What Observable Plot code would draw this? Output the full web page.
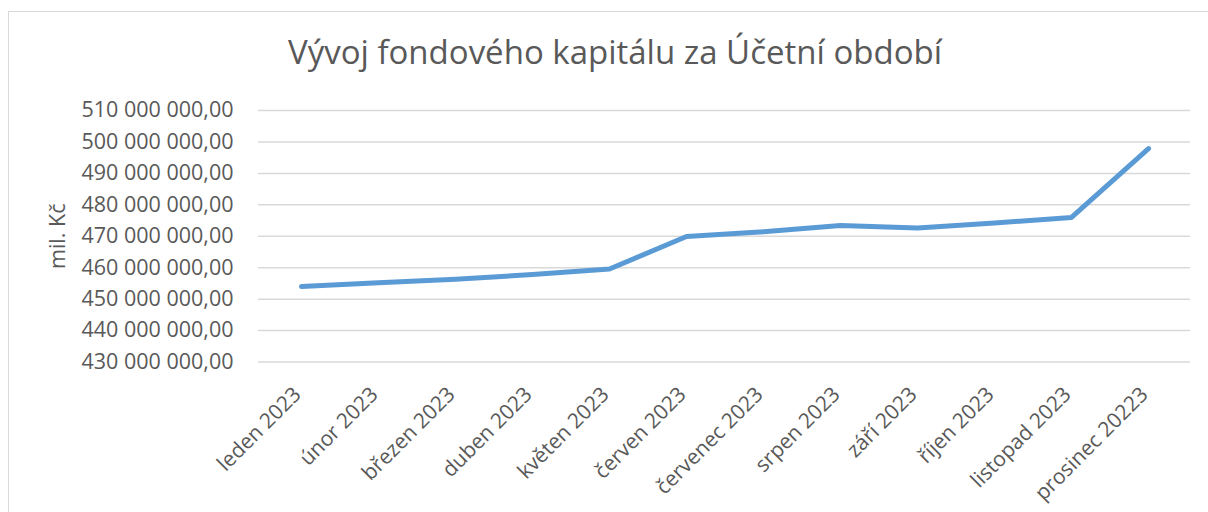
<!DOCTYPE html>
<html>
<head>
<meta charset="utf-8">
<script src="https://cdn.jsdelivr.net/npm/d3@7"></script>
<script src="https://cdn.jsdelivr.net/npm/@observablehq/plot@0.6"></script>
<style>
  html, body { margin: 0; padding: 0; background: #fff; }
  #wrap { position: relative; width: 1208px; height: 512px; overflow: hidden; font-family: "Open Sans", sans-serif; }
  #frame { position: absolute; left: 8px; top: 11px; width: 1300px; height: 600px; border-left: 1.3px solid #d9d9d9; border-top: 1.3px solid #d9d9d9; }
  #title { position: absolute; left: 0; top: 32px; width: 1230px; text-align: center; font-size: 33px; color: #595959; line-height: 40px; }
  #chart { position: absolute; left: 0; top: 90px; }
</style>
</head>
<body>
<div id="wrap">
  <div id="frame"></div>
  <div id="title">Vývoj fondového kapitálu za Účetní období</div>
  <div id="chart"></div>
</div>
<script>
const months = ["leden 2023", "únor 2023", "březen 2023", "duben 2023", "květen 2023", "červen 2023",
  "červenec 2023", "srpen 2023", "září 2023", "říjen 2023", "listopad 2023", "prosinec 20223"];
const values = [454.0e6, 455.2e6, 456.3e6, 457.8e6, 459.6e6, 469.9e6,
  471.4e6, 473.4e6, 472.6e6, 474.2e6, 476.0e6, 497.9e6];
const yTicks = [430e6, 440e6, 450e6, 460e6, 470e6, 480e6, 490e6, 500e6, 510e6];
const yLabel = "mil. Kč";

const data = months.map((m, i) => ({month: m, value: values[i]}));
const locale = d3.formatLocale({decimal: ",", thousands: "\u00a0", grouping: [3], currency: ["", " Kč"]});
const fmt = locale.format(",.2f");

const chart = Plot.plot({
  width: 1208,
  height: 422,
  marginLeft: 258,
  marginRight: 18,
  marginTop: 20,
  marginBottom: 150.5,
  style: {fontFamily: "'Open Sans', sans-serif", color: "#595959", background: "transparent"},
  x: {type: "point", domain: months, padding: 0.5},
  y: {domain: [430e6, 510e6]},
  marks: [
    Plot.gridY(yTicks, {stroke: "#d9d9d9", strokeOpacity: 1, strokeWidth: 1.5}),
    Plot.axisY(yTicks, {tickFormat: fmt, tickSize: 0, tickPadding: 25, fontSize: 21.5, fill: "#595959",
      label: yLabel, labelAnchor: "center", labelArrow: "none", labelOffset: 209}),
    Plot.axisX({tickSize: 0, tickPadding: 27, tickRotate: -45, fontSize: 21, fill: "#595959", label: null, dx: -4, dy: 2}),
    Plot.line(data, {x: "month", y: "value", stroke: "#5b9bd5", strokeWidth: 5, strokeLinecap: "round", strokeLinejoin: "round"})
  ]
});
document.getElementById("chart").appendChild(chart);
</script>
</body>
</html>
